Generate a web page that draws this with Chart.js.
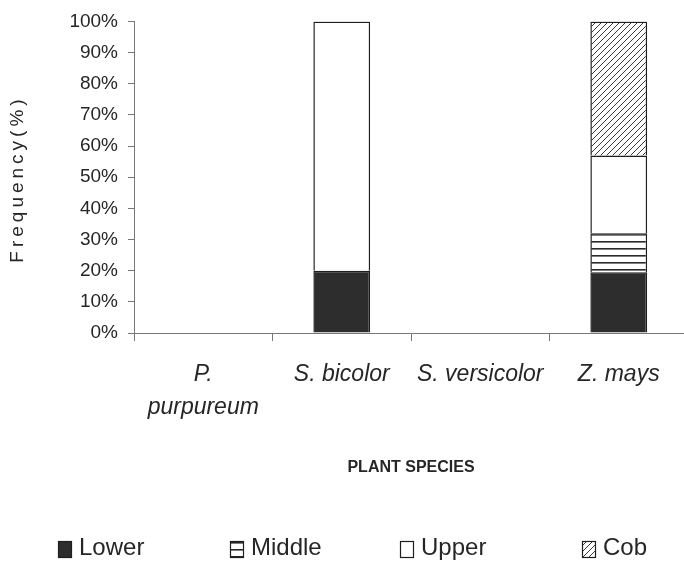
<!DOCTYPE html>
<html>
<head>
<meta charset="utf-8">
<title>Frequency by plant species</title>
<script src="https://cdn.jsdelivr.net/npm/chart.js@4.4.1/dist/chart.umd.min.js"></script>
<style>
  html, body { margin: 0; padding: 0; background: #fff; overflow: hidden; }
  #wrap { position: relative; width: 688px; height: 567px; }
</style>
</head>
<body>
<div id="wrap"><canvas id="freqChart"></canvas></div>
<script>
// data (percent of each plant)
const species = [['P.', 'purpureum'], 'S. bicolor', 'S. versicolor', 'Z. mays'];
const lower  = [null, 20, null, 19.5];
const middle = [null, null, null, 12.5];
const upper  = [null, 80, null, 25];
const cob    = [null, null, null, 43];
const yTicks = [0, 10, 20, 30, 40, 50, 60, 70, 80, 90, 100];

const sans = "'Liberation Sans', Arial, sans-serif";
const ink = '#262626';

// fill patterns like the printed figure
function linesPattern() {
  const c = document.createElement('canvas');
  c.width = 8; c.height = 7;
  const g = c.getContext('2d');
  g.fillStyle = '#fff';
  g.fillRect(0, 0, 8, 7);
  g.fillStyle = '#2a2a2a';
  g.fillRect(0, 3, 8, 1.6);
  return g.createPattern(c, 'repeat');
}

function hatchPattern() {
  const s = 6;
  const c = document.createElement('canvas');
  c.width = s; c.height = s;
  const g = c.getContext('2d');
  g.fillStyle = '#fff';
  g.fillRect(0, 0, s, s);
  g.strokeStyle = '#3a3a3a';
  g.lineWidth = 1;
  g.beginPath();
  g.moveTo(0, s); g.lineTo(s, 0);
  g.moveTo(-1, 1); g.lineTo(1, -1);
  g.moveTo(s - 1, s + 1); g.lineTo(s + 1, s - 1);
  g.stroke();
  return g.createPattern(c, 'repeat');
}

// spaced-out y title, drawn by hand
const yTitle = {
  id: 'yTitle',
  afterDraw(chart) {
    const ctx = chart.ctx;
    ctx.save();
    ctx.translate(18, 179);
    ctx.rotate(-Math.PI / 2);
    ctx.font = '19px ' + sans;
    ctx.letterSpacing = '4px';
    ctx.fillStyle = ink;
    ctx.textAlign = 'center';
    ctx.textBaseline = 'middle';
    ctx.fillText('Frequency(%)', 0, 0);
    ctx.restore();
  }
};

// legend spread across the bottom like the original
const legendX = [58, 230, 400, 582];
const spreadLegend = {
  id: 'spreadLegend',
  afterDraw(chart) {
    const ctx = chart.ctx;
    ctx.save();
    ctx.font = '24px ' + sans;
    ctx.textBaseline = 'middle';
    chart.data.datasets.forEach((ds, i) => {
      const x = legendX[i];
      ctx.fillStyle = ds.backgroundColor;
      ctx.fillRect(x, 541, 13, 16);
      ctx.strokeStyle = ds.borderColor;
      ctx.lineWidth = 1.2;
      ctx.strokeRect(x + 0.5, 541.5, 13, 16);
      ctx.fillStyle = ink;
      ctx.fillText(ds.label, x + 21, 548);
    });
    ctx.restore();
  }
};

const border = '#1e1e1e';
const common = { borderColor: border, borderWidth: 1.5, categoryPercentage: 1, barPercentage: 0.41 };

new Chart(document.getElementById('freqChart'), {
  type: 'bar',
  data: {
    labels: species,
    datasets: [
      { label: 'Lower', data: lower, backgroundColor: '#2d2d2d', ...common },
      { label: 'Middle', data: middle, backgroundColor: linesPattern(), ...common },
      { label: 'Upper', data: upper, backgroundColor: '#ffffff', ...common },
      { label: 'Cob', data: cob, backgroundColor: hatchPattern(), ...common }
    ]
  },
  options: {
    responsive: true,
    maintainAspectRatio: false,
    animation: false,
    layout: { padding: { top: 21, right: 0, bottom: 40, left: 0 } },
    plugins: {
      tooltip: { enabled: false },
      legend: { display: false }
    },
    scales: {
      x: {
        stacked: true,
        offset: true,
        grid: { drawOnChartArea: false, tickLength: 8, color: '#777' },
        border: { color: '#777', width: 1 },
        ticks: {
          color: ink,
          padding: 17,
          maxRotation: 0,
          autoSkip: false,
          font: { family: sans, size: 23, style: 'italic', lineHeight: 1.43 }
        },
        title: {
          display: true,
          text: 'PLANT SPECIES',
          color: ink,
          padding: { top: 0, bottom: 50 },
          font: { family: sans, size: 16, weight: 'bold' }
        },
        afterFit(scale) { scale.height = 194; }
      },
      y: {
        stacked: true,
        min: 0,
        max: 100,
        afterBuildTicks(scale) { scale.ticks = yTicks.map(v => ({ value: v })); },
        grid: { drawOnChartArea: false, tickLength: 6, color: '#777' },
        border: { color: '#777', width: 1 },
        ticks: {
          color: ink,
          padding: 10,
          autoSkip: false,
          font: { family: sans, size: 19 },
          callback: v => v + '%'
        },
        afterFit(scale) { scale.width = 134; }
      }
    }
  },
  plugins: [yTitle, spreadLegend]
});
</script>
</body>
</html>
